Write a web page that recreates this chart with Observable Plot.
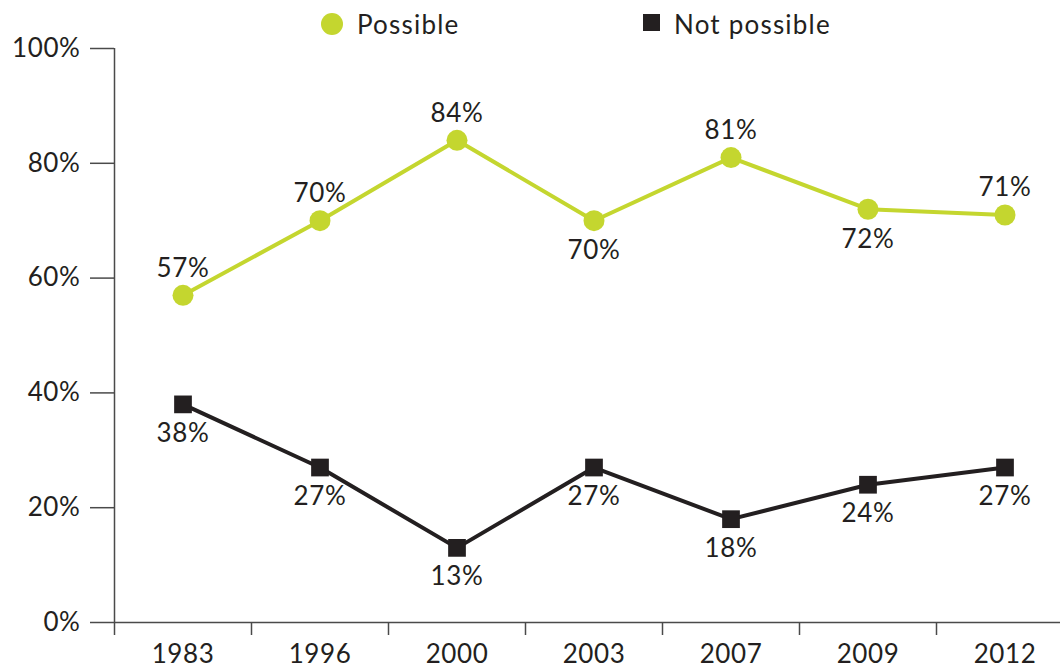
<!DOCTYPE html>
<html>
<head>
<meta charset="utf-8">
<script src="https://cdn.jsdelivr.net/npm/d3@7"></script>
<script src="https://cdn.jsdelivr.net/npm/@observablehq/plot@0.6"></script>
<style>
  body { margin: 0; background: #fff; }
  #wrap { position: relative; width: 1060px; height: 669px; font-family: Lato, "Open Sans", sans-serif; color: #231f20; }
  .legend { position: absolute; top: 0; left: 0; height: 48px; width: 1060px; font-size: 26px; letter-spacing: 1.2px; }
  .item { position: absolute; top: 8px; display: flex; align-items: center; gap: 14px; line-height: 32px; }
  .swatch-dot { width: 22px; height: 22px; border-radius: 50%; background: #c4d62f; }
  .swatch-sq { width: 17px; height: 17px; background: #231f20; margin-top: -4px; }
  svg { display: block; }
  svg text { letter-spacing: 0.6px; }
</style>
</head>
<body>
<div id="wrap">
  <div class="legend">
    <div class="item" style="left:321px"><span class="swatch-dot"></span><span>Possible</span></div>
    <div class="item" style="left:643px"><span class="swatch-sq"></span><span>Not possible</span></div>
  </div>
</div>
<script>
// Survey years and shares (%) answering each way
const years = ["1983", "1996", "2000", "2003", "2007", "2009", "2012"];
const possible = [57, 70, 84, 70, 81, 72, 71];
const notPossible = [38, 27, 13, 27, 18, 24, 27];
const yTicks = [0, 20, 40, 60, 80, 100];

const GREEN = "#c4d62f";
const DARK = "#231f20";
const AXIS = "#4a4a4a";

// years whose "Possible" label sits under the point
const possibleBelow = new Set(["2003", "2009"]);

const rows = years.map((year, i) => ({i, year, possible: possible[i], notPossible: notPossible[i]}));
const idx = d3.range(years.length);
const bounds = idx.map(i => i - 0.5);

const chart = Plot.plot({
  width: 1060,
  height: 669,
  marginTop: 48,
  marginBottom: 47,
  marginLeft: 114,
  marginRight: 0,
  x: {type: "linear", domain: [-0.5, years.length - 0.5], range: [114, 1073]},
  y: {domain: [0, 100]},
  style: {fontFamily: "Lato, 'Open Sans', sans-serif", fontSize: "26px", color: DARK, background: "transparent", overflow: "visible"},
  marks: [
    Plot.axisY({ticks: yTicks, tickFormat: d => d + "%", tickSize: 24, tickPadding: 10, stroke: AXIS, strokeWidth: 1.5, label: null, fill: DARK}),
    Plot.axisX({ticks: bounds, tickSize: 13, tickFormat: () => "", stroke: AXIS, strokeWidth: 1.5, label: null}),
    Plot.axisX({ticks: idx, tickSize: 0, tickPadding: 22, tickFormat: i => years[i], label: null, fill: DARK}),
    Plot.ruleX([-0.5], {stroke: AXIS, strokeWidth: 1.5}),
    Plot.ruleY([0], {stroke: AXIS, strokeWidth: 1.5}),

    Plot.line(rows, {x: "i", y: "possible", stroke: GREEN, strokeWidth: 4}),
    Plot.dot(rows, {x: "i", y: "possible", r: 10.5, fill: GREEN, stroke: "none"}),
    Plot.line(rows, {x: "i", y: "notPossible", stroke: DARK, strokeWidth: 4}),
    Plot.dot(rows, {x: "i", y: "notPossible", symbol: "square", r: 10, fill: DARK, stroke: "none"}),

    Plot.text(rows.filter(d => !possibleBelow.has(d.year)), {x: "i", y: "possible", text: d => d.possible + "%", dy: -27, fill: DARK}),
    Plot.text(rows.filter(d => possibleBelow.has(d.year)), {x: "i", y: "possible", text: d => d.possible + "%", dy: 30, fill: DARK}),
    Plot.text(rows, {x: "i", y: "notPossible", text: d => d.notPossible + "%", dy: 29, fill: DARK})
  ]
});

document.getElementById("wrap").appendChild(chart);
</script>
</body>
</html>
